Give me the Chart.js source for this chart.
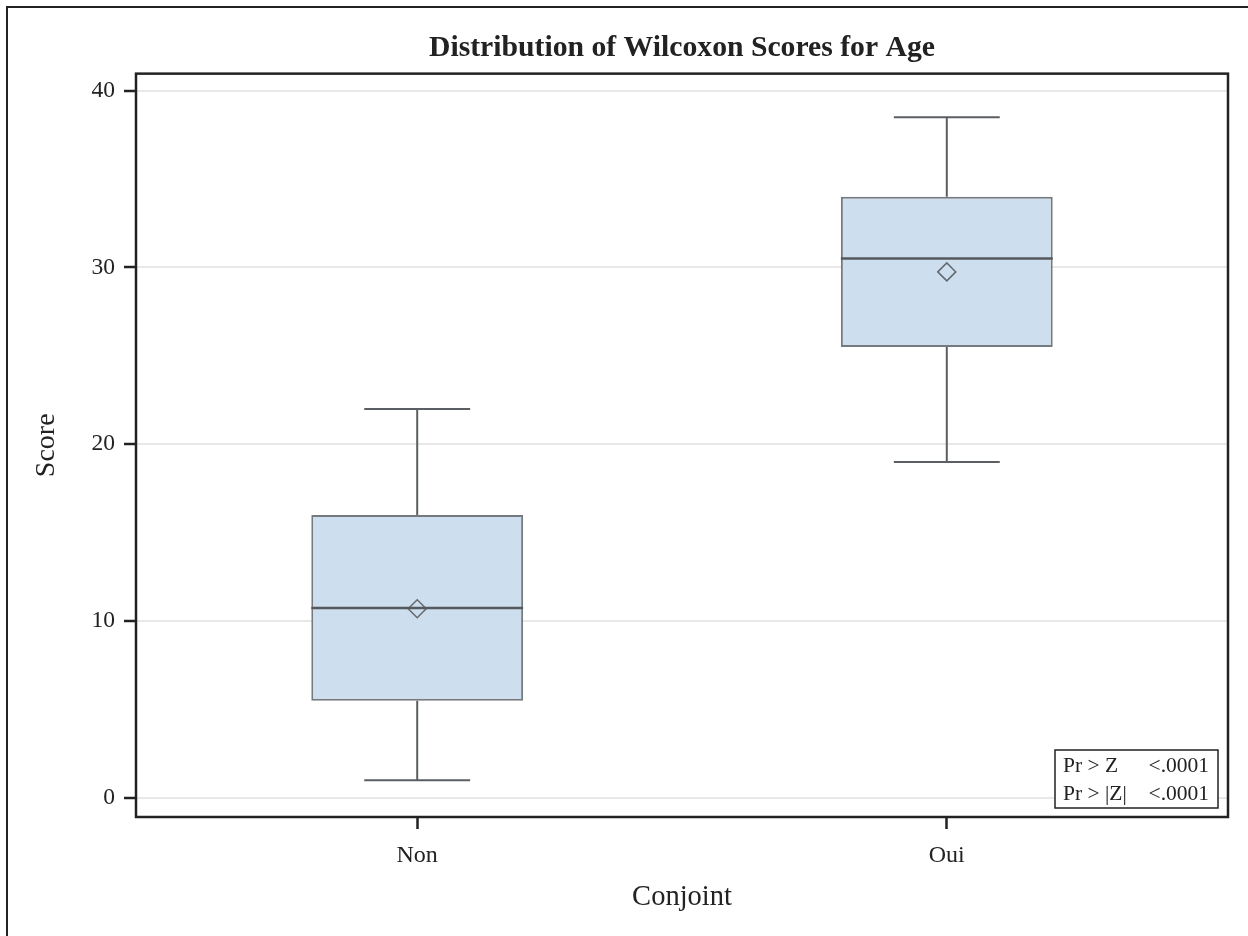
<!DOCTYPE html>
<html>
<head>
<meta charset="utf-8">
<title>Distribution of Wilcoxon Scores for Age</title>
<script src="https://cdn.jsdelivr.net/npm/chart.js@4/dist/chart.umd.min.js"></script>
<style>
  html, body { margin: 0; padding: 0; background: #fff; overflow: hidden; }
  #wrap { position: relative; width: 1248px; height: 936px; }
  #frame { position: absolute; left: 6px; top: 6px; width: 1300px; height: 1000px; border: 2px solid #222; }
  #chart { position: absolute; left: 0; top: 0; }
</style>
</head>
<body>
<div id="wrap">
  <div id="frame"></div>
  <canvas id="chart" width="1248" height="936"></canvas>
</div>
<script>
// Données (scores de Wilcoxon par groupe)
const categories = ['Non', 'Oui'];
const whiskerLow = [1.0, 19.0];
const q1 = [5.5, 25.5];
const median = [10.75, 30.5];
const q3 = [16.0, 34.0];
const whiskerHigh = [22.0, 38.5];
const means = [10.7, 29.75];
const yTicks = [0, 10, 20, 30, 40];

// Encadré statistique
const statLabels = ['Pr > Z', 'Pr > |Z|'];
const statValues = ['<.0001', '<.0001'];

const SERIF = '"Liberation Serif", "Times New Roman", serif';
const INK = '#222222';

// Moustaches, médianes, cadre du graphique et encadré
const boxExtras = {
    id: 'boxExtras',
    afterDatasetsDraw(chart) {
        const { ctx, chartArea, scales: { x, y } } = chart;
        const boxes = chart.getDatasetMeta(0).data;
        ctx.save();
        categories.forEach((c, i) => {
            const cx = x.getPixelForValue(i);
            const w = boxes[i] ? boxes[i].width : 200;
            const cap = w / 4;
            ctx.strokeStyle = '#5b5f63';
            ctx.lineWidth = 2;
            ctx.beginPath();
            // moustache haute
            ctx.moveTo(cx, y.getPixelForValue(q3[i]));
            ctx.lineTo(cx, y.getPixelForValue(whiskerHigh[i]));
            ctx.moveTo(cx - cap, y.getPixelForValue(whiskerHigh[i]));
            ctx.lineTo(cx + cap, y.getPixelForValue(whiskerHigh[i]));
            // moustache basse
            ctx.moveTo(cx, y.getPixelForValue(q1[i]));
            ctx.lineTo(cx, y.getPixelForValue(whiskerLow[i]));
            ctx.moveTo(cx - cap, y.getPixelForValue(whiskerLow[i]));
            ctx.lineTo(cx + cap, y.getPixelForValue(whiskerLow[i]));
            ctx.stroke();
            // médiane
            ctx.strokeStyle = '#55595d';
            ctx.lineWidth = 2.5;
            ctx.beginPath();
            ctx.moveTo(cx - w / 2, y.getPixelForValue(median[i]));
            ctx.lineTo(cx + w / 2, y.getPixelForValue(median[i]));
            ctx.stroke();
        });

        // cadre de la zone de tracé
        ctx.strokeStyle = INK;
        ctx.lineWidth = 2.5;
        ctx.strokeRect(chartArea.left, chartArea.top, chartArea.right - chartArea.left, chartArea.bottom - chartArea.top);

        // encadré Pr > Z
        ctx.font = '21.5px ' + SERIF;
        const bw = 163, bh = 58;
        const bx = chartArea.right - 10 - bw;
        const by = chartArea.bottom - 9 - bh;
        ctx.fillStyle = '#fff';
        ctx.fillRect(bx, by, bw, bh);
        ctx.strokeStyle = INK;
        ctx.lineWidth = 1.5;
        ctx.strokeRect(bx, by, bw, bh);
        ctx.fillStyle = INK;
        ctx.textBaseline = 'alphabetic';
        statLabels.forEach((lab, k) => {
            const base = by + 22 + k * 28;
            ctx.textAlign = 'left';
            ctx.fillText(lab, bx + 8, base);
            ctx.textAlign = 'right';
            ctx.fillText(statValues[k], bx + bw - 9, base);
        });
        ctx.restore();
    }
};

const ctx = document.getElementById('chart').getContext('2d');
new Chart(ctx, {
    data: {
        datasets: [
            {
                type: 'bar',
                label: 'Boîte',
                data: categories.map((c, i) => ({ x: i, y: [q1[i], q3[i]] })),
                backgroundColor: '#cddeee',
                borderColor: '#76797d',
                borderWidth: 2,
                borderSkipped: false,
                categoryPercentage: 1,
                barPercentage: 0.4,
                order: 2
            },
            {
                type: 'line',
                label: 'Moyenne',
                data: categories.map((c, i) => ({ x: i, y: means[i] })),
                showLine: false,
                pointStyle: 'rectRot',
                pointRadius: 9,
                pointBackgroundColor: 'rgba(0,0,0,0)',
                pointBorderColor: '#66696d',
                pointBorderWidth: 1.5,
                order: 1
            }
        ]
    },
    options: {
        responsive: false,
        animation: false,
        layout: { padding: { left: 0, right: 20, top: 0, bottom: 0 } },
        plugins: {
            legend: { display: false },
            tooltip: { enabled: false },
            title: {
                display: true,
                fullSize: false,
                text: 'Distribution of Wilcoxon Scores for Age',
                color: INK,
                font: { family: SERIF, size: 29.7, weight: 'bold', lineHeight: 1.2 },
                padding: { top: 31, bottom: 7 }
            }
        },
        scales: {
            x: {
                type: 'linear',
                min: -0.531,
                max: 1.531,
                offset: false,
                afterBuildTicks: (s) => { s.ticks = categories.map((c, i) => ({ value: i })); },
                afterFit: (s) => { s.height = 119; },
                border: { display: false },
                grid: { offset: false, drawOnChartArea: false, drawTicks: true, tickLength: 12, tickColor: INK, tickWidth: 2.5 },
                ticks: {
                    color: INK,
                    padding: 12,
                    autoSkip: false,
                    maxRotation: 0,
                    font: { family: SERIF, size: 24 },
                    callback: (v) => categories[v]
                },
                title: {
                    display: true,
                    text: 'Conjoint',
                    color: INK,
                    font: { family: SERIF, size: 28.5, lineHeight: 1.2 },
                    padding: { top: 0, bottom: 21 }
                }
            },
            y: {
                min: -1.075,
                max: 40.96,
                afterBuildTicks: (s) => { s.ticks = yTicks.map(v => ({ value: v })); },
                afterFit: (s) => { s.width = 136; },
                border: { display: false },
                grid: { color: '#e8e8e8', lineWidth: 2, drawTicks: true, tickLength: 12, tickColor: INK, tickWidth: 2.5 },
                ticks: {
                    color: INK,
                    padding: 9,
                    font: { family: SERIF, size: 23.5 }
                },
                title: {
                    display: true,
                    text: 'Score',
                    color: INK,
                    font: { family: SERIF, size: 28, lineHeight: 1.2 },
                    padding: { top: 30, bottom: 0 }
                }
            }
        }
    },
    plugins: [boxExtras]
});
</script>
</body>
</html>
